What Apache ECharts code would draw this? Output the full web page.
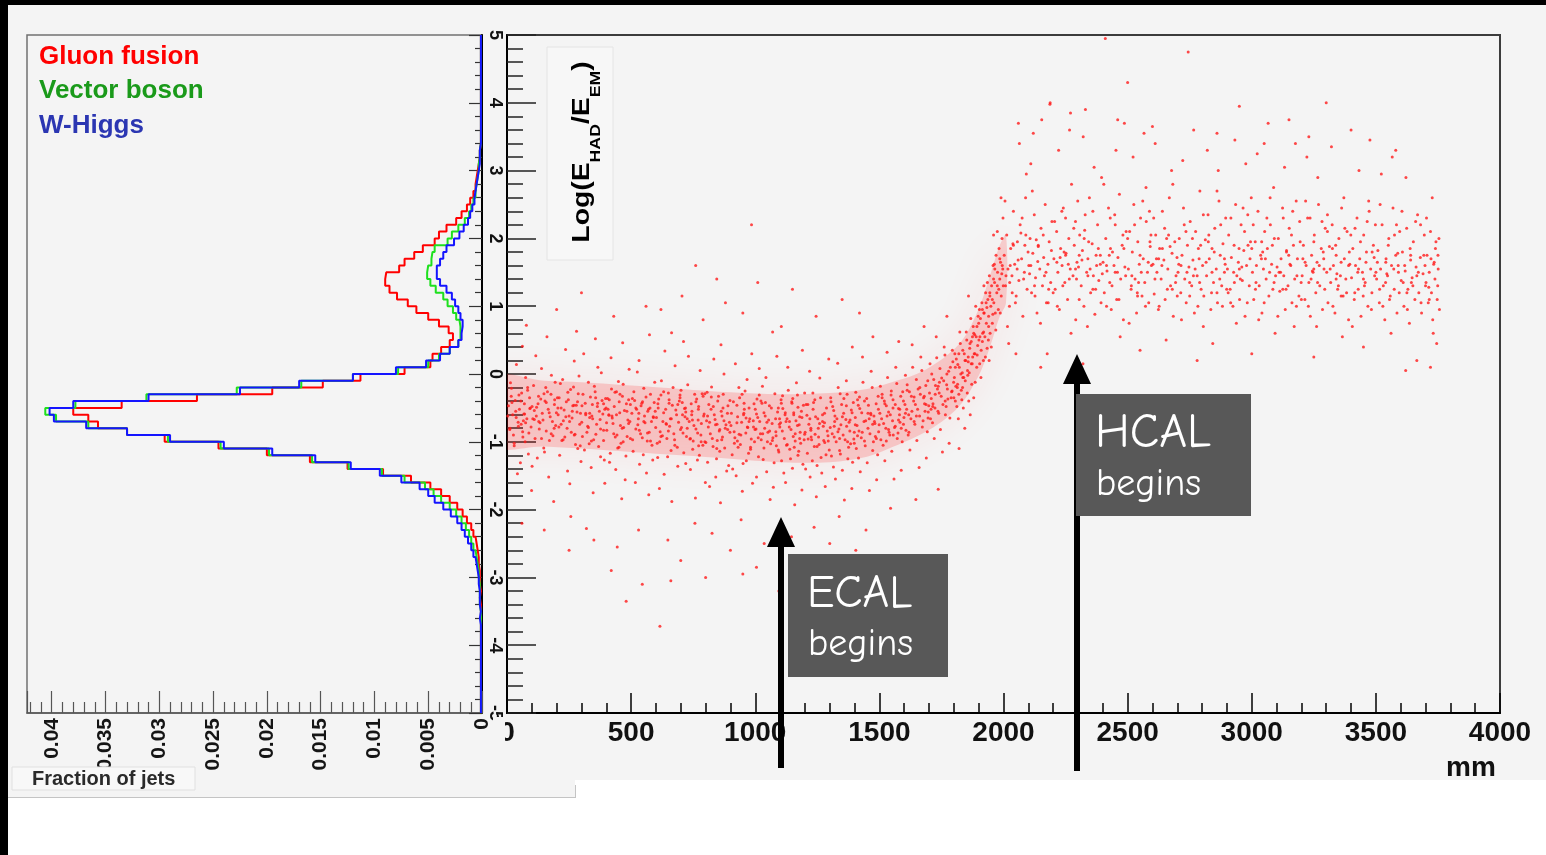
<!DOCTYPE html>
<html>
<head>
<meta charset="utf-8">
<script src="https://cdn.jsdelivr.net/npm/echarts@6.0.0/dist/echarts.min.js"></script>
<style>
html, body { margin: 0; padding: 0; background: #ffffff; }
#chart { width: 1546px; height: 855px; }
</style>
</head>
<body>
<div id="chart"></div>
<script>
// ---- Jet fraction histograms: bins of 0.1 in Log(E_HAD/E_EM), from -5 to 5 ----
const histBinStart = -5;
const histBinWidth = 0.1;

const gluonFusion = [
  0.0001,0.0001,0.0001,0.0001,0.0001,0.0001,0.0001,0.0001,0.0001,0.0001,
  0.0001,0.0001,0.0001,0.0001,0.0001,0.0001,0.0002,0.0001,0.0002,0.0002,
  0.0002,0.0003,0.0003,0.0004,0.0005,0.0006,0.0008,0.0010,0.0014,0.0018,
  0.0023,0.0030,0.0038,0.0048,0.0066,0.0092,0.0125,0.0160,0.0200,0.0245,
  0.0295,0.0330,0.0357,0.0366,0.0380,0.0335,0.0265,0.0195,0.0148,0.0113,
  0.0072,0.0048,0.0046,0.0038,0.0030,0.0027,0.0031,0.0040,0.0050,0.0061,
  0.0069,0.0079,0.0086,0.0090,0.0089,0.0077,0.0072,0.0063,0.0055,0.0044,
  0.0040,0.0033,0.0024,0.0019,0.0014,0.0011,0.0008,0.0006,0.0005,0.0004,
  0.0003,0.0002,0.0002,0.0001,0.0001,0.0001,0.0001,0.0001,0.0001,0.0001,
  0.0001,0.0001,0.0001,0.0001,0.0001,0.0001,0.0001,0.0001,0.0001,0.0001
];
const vectorBoson = [
  0.0001,0.0001,0.0001,0.0001,0.0001,0.0001,0.0001,0.0001,0.0001,0.0001,
  0.0001,0.0001,0.0001,0.0001,0.0001,0.0002,0.0002,0.0002,0.0002,0.0003,
  0.0003,0.0004,0.0005,0.0006,0.0008,0.0010,0.0012,0.0015,0.0019,0.0024,
  0.0030,0.0038,0.0045,0.0053,0.0072,0.0093,0.0124,0.0158,0.0198,0.0243,
  0.0292,0.0330,0.0366,0.0396,0.0406,0.0378,0.0312,0.0228,0.0168,0.0120,
  0.0078,0.0050,0.0040,0.0030,0.0022,0.0020,0.0020,0.0021,0.0024,0.0027,
  0.0032,0.0036,0.0043,0.0048,0.0051,0.0050,0.0047,0.0046,0.0044,0.0032,
  0.0028,0.0022,0.0016,0.0012,0.0010,0.0008,0.0006,0.0005,0.0004,0.0003,
  0.0003,0.0002,0.0002,0.0001,0.0001,0.0001,0.0001,0.0001,0.0001,0.0001,
  0.0001,0.0001,0.0001,0.0001,0.0001,0.0001,0.0001,0.0001,0.0001,0.0001
];
const wHiggs = [
  0.0001,0.0001,0.0001,0.0001,0.0001,0.0001,0.0001,0.0001,0.0001,0.0001,
  0.0001,0.0001,0.0001,0.0002,0.0001,0.0002,0.0002,0.0002,0.0003,0.0003,
  0.0004,0.0005,0.0006,0.0008,0.0010,0.0013,0.0016,0.0019,0.0023,0.0029,
  0.0036,0.0044,0.0050,0.0058,0.0075,0.0095,0.0122,0.0155,0.0195,0.0240,
  0.0290,0.0330,0.0368,0.0398,0.0402,0.0380,0.0310,0.0225,0.0170,0.0120,
  0.0080,0.0052,0.0039,0.0030,0.0022,0.0019,0.0018,0.0018,0.0020,0.0022,
  0.0025,0.0028,0.0033,0.0039,0.0042,0.0042,0.0039,0.0036,0.0033,0.0026,
  0.0021,0.0017,0.0013,0.0011,0.0009,0.0007,0.0006,0.0005,0.0004,0.0003,
  0.0002,0.0002,0.0002,0.0001,0.0001,0.0001,0.0001,0.0001,0.0001,0.0001,
  0.0001,0.0001,0.0001,0.0001,0.0001,0.0001,0.0001,0.0001,0.0001,0.0001
];

const histNames = ['Gluon fusion', 'Vector boson', 'W-Higgs'];

// ---- Jet shower depth (mm) vs Log(E_HAD/E_EM), gluon fusion jets ----
const ecalBand = [
  [6,-0.47],[11,-0.82],[18,-0.21],[23,-0.6],[29,-1.06],[33,-0.39],[38,0.14],[45,-0.71],[50,-0.52],[54,-1.31],[59,-0.28],[64,-0.93],[70,-0.44],[75,-0.05],[80,-0.66],[86,-1.18],[91,-0.35],[97,-0.78],[3,-0.62],[14,-0.13],[26,-0.9],[35,-0.55],[42,-1.47],[48,-0.31],[57,-0.74],[62,0.41],[68,-0.59],[73,-1.0],[83,-0.24],[88,-0.87],[94,-0.5],[99,-1.72],[20,-0.42],[66,-0.69],[78,0.72],
  [104,-0.66],[107,-0.17],[113,-0.95],[119,-0.49],[122,-1.24],[127,-0.33],[133,-0.72],[139,0.08],[142,-0.58],[148,-1.09],[153,-0.4],[158,-0.84],[163,-0.26],[168,-1.52],[174,-0.63],[179,-0.02],[185,-0.91],[191,-0.45],[196,-0.76],[101,-1.36],[110,-0.54],[116,0.27],[130,-0.81],[136,-0.37],[145,-0.68],[151,-1.15],[156,-0.2],[166,-0.52],[171,-0.98],[177,-0.3],[183,-0.7],[188,-1.88],[194,-0.12],[199,-0.57],[125,-0.44],[161,0.55],
  [203,-0.35],[209,-0.78],[212,-1.2],[218,-0.5],[224,-0.08],[227,-0.69],[233,-0.93],[239,-0.41],[244,-1.43],[250,-0.62],[256,-0.23],[259,-0.86],[265,-0.47],[271,0.19],[276,-1.04],[282,-0.56],[287,-0.29],[293,-0.74],[298,-1.29],[206,-0.6],[215,-0.14],[221,-0.98],[230,-0.53],[236,0.36],[242,-0.8],[247,-0.38],[253,-1.62],[262,-0.65],[268,-0.19],[274,-0.89],[279,-0.46],[285,-1.1],[290,-0.03],[296,-0.58],[257,-2.1],[280,0.63],
  [301,-0.71],[306,-0.3],[312,-1.12],[317,-0.58],[322,-0.86],[328,-0.12],[333,-0.64],[339,-1.38],[344,-0.45],[349,-0.97],[355,-0.26],[361,-0.74],[366,0.1],[372,-0.55],[377,-1.22],[383,-0.39],[389,-0.83],[394,-1.61],[399,-0.5],[304,-0.92],[309,0.3],[315,-0.43],[325,-0.77],[331,-1.03],[336,-0.34],[342,-0.62],[347,-1.75],[352,-0.18],[358,-0.89],[364,-0.48],[369,-1.07],[375,-0.67],[380,0.02],[386,-0.59],[392,-1.27],[397,-0.36],[320,-2.28],[356,0.52],
  [402,-0.83],[405,-0.36],[411,-0.61],[416,-1.17],[421,-0.22],[427,-0.73],[432,-0.48],[438,-1.41],[443,-0.9],[449,-0.11],[454,-0.57],[459,-1.02],[465,-0.33],[470,-0.79],[476,-1.56],[481,-0.44],[487,-0.68],[492,0.07],[497,-0.95],[407,-0.52],[413,-1.3],[419,0.24],[424,-0.65],[430,-0.88],[435,-0.27],[441,-0.6],[446,-1.09],[452,-0.41],[457,-0.76],[462,-1.84],[468,-0.15],[473,-0.54],[479,-1.21],[484,-0.92],[490,-0.38],[495,-0.7],[444,-2.55],[466,0.46],
  [503,-0.58],[508,-1.14],[514,-0.39],[519,-0.81],[525,0.03],[529,-0.66],[534,-1.33],[540,-0.47],[545,-0.94],[551,-0.21],[556,-0.72],[562,-1.46],[567,-0.55],[573,-0.86],[578,-0.3],[584,-1.05],[589,-0.63],[595,-0.12],[599,-0.79],[506,-0.97],[511,-0.26],[517,-1.6],[522,-0.52],[527,-0.75],[532,0.2],[538,-0.88],[543,-0.43],[549,-1.19],[554,-0.62],[560,-0.34],[565,-0.99],[571,-1.78],[576,-0.5],[582,-0.7],[587,-1.27],[593,-0.42],[530,-2.3],[574,0.58],
  [602,-0.64],[607,-1.23],[611,-0.37],[617,-0.85],[622,-0.1],[628,-0.7],[633,-1.48],[639,-0.52],[644,-0.95],[650,-0.28],[655,-0.77],[661,-1.13],[666,-0.46],[672,-0.88],[677,0.12],[683,-0.6],[688,-1.36],[694,-0.4],[699,-0.82],[605,-1.02],[609,-0.5],[614,-1.69],[620,-0.31],[626,-0.91],[631,-0.57],[636,0.34],[642,-0.74],[647,-1.22],[653,-0.43],[658,-0.66],[664,-1.88],[669,-0.2],[675,-0.97],[680,-0.53],[686,-1.08],[691,-0.71],[697,-0.35],[648,-2.45],[663,0.61],
  [703,-0.79],[706,-0.42],[712,-1.16],[717,-0.63],[723,-0.92],[728,-0.16],[734,-0.7],[739,-1.41],[745,-0.55],[750,-0.99],[756,-0.3],[761,-0.81],[767,-1.27],[772,-0.48],[778,0.05],[783,-0.73],[789,-1.05],[794,-0.59],[799,-1.6],[701,-0.24],[709,-0.87],[715,-0.51],[720,-1.32],[726,-0.66],[731,0.26],[737,-0.96],[742,-0.44],[748,-1.11],[753,-0.76],[759,-1.83],[764,-0.37],[770,-0.68],[775,-1.2],[781,-0.9],[786,-0.29],[792,-0.62],[797,-1.0],[757,-2.2],[711,0.48],[744,-0.6],
  [804,-0.69],[808,-1.3],[813,-0.45],[819,-0.88],[824,-0.19],[830,-1.07],[835,-0.6],[841,-1.52],[846,-0.74],[852,-0.33],[857,-1.14],[863,-0.55],[868,-0.93],[874,0.0],[879,-0.8],[885,-1.43],[890,-0.47],[896,-0.71],[801,-1.01],[806,-0.27],[811,-0.78],[816,-1.66],[822,-0.52],[827,-0.95],[833,0.22],[838,-0.67],[844,-1.25],[849,-0.4],[855,-0.84],[860,-1.9],[866,-0.62],[871,-0.3],[877,-1.09],[882,-0.75],[888,-0.58],[893,-1.35],[898,-0.86],[826,-2.35],[862,0.43],[847,-0.98],
  [902,-0.76],[907,-1.19],[912,-0.41],[918,-0.94],[923,-1.5],[929,-0.63],[934,-0.2],[940,-1.04],[945,-0.71],[951,-1.32],[956,-0.52],[962,-0.87],[967,-0.08],[973,-1.17],[978,-0.66],[984,-0.96],[989,-1.61],[995,-0.44],[999,-0.82],[904,-0.58],[909,-1.4],[915,-0.85],[920,0.15],[926,-0.72],[931,-1.08],[937,-0.35],[942,-0.9],[948,-1.73],[953,-0.6],[959,-0.25],[964,-1.28],[970,-0.79],[975,-0.5],[981,-1.11],[986,0.3],[992,-0.69],[997,-1.0],[943,-2.15],[968,-0.78],[928,-0.99],
  [1003,-0.81],[1007,-0.37],[1013,-1.22],[1018,-0.7],[1024,-0.97],[1029,-0.18],[1035,-1.09],[1040,-0.62],[1046,-1.44],[1051,-0.86],[1057,-0.47],[1062,-1.03],[1068,-0.73],[1073,-1.67],[1079,-0.29],[1084,-0.91],[1090,-0.56],[1095,-1.15],[1099,-0.78],[1005,-1.52],[1010,-0.64],[1016,0.08],[1021,-0.88],[1027,-0.43],[1032,-1.26],[1038,-0.8],[1043,-0.05],[1049,-1.0],[1054,-0.68],[1060,-1.85],[1065,-0.5],[1071,-0.94],[1076,-1.31],[1082,-0.66],[1087,0.26],[1093,-1.12],[1097,-0.74],[1036,-2.5],[1058,-0.84],[1085,-1.06],[1070,0.62],
  [1102,-0.72],[1106,-1.28],[1111,-0.51],[1117,-0.95],[1122,-1.6],[1128,-0.66],[1133,-0.24],[1139,-1.11],[1144,-0.82],[1150,-1.39],[1155,-0.57],[1161,-0.99],[1166,-0.13],[1172,-1.2],[1177,-0.75],[1183,-1.02],[1188,-1.71],[1194,-0.46],[1199,-0.89],[1104,-0.38],[1109,-0.84],[1115,-1.46],[1120,-0.6],[1126,-1.05],[1131,0.1],[1137,-0.78],[1142,-1.25],[1148,-0.43],[1153,-0.92],[1159,-1.93],[1164,-0.69],[1170,-0.31],[1175,-1.14],[1181,-0.86],[1186,-0.55],[1192,-1.33],[1197,-0.97],[1124,-0.7],[1157,-1.08],[1179,-0.63],[1146,-2.4],[1190,0.35],
  [1201,-0.86],[1205,-0.45],[1210,-1.17],[1216,-0.74],[1221,-1.52],[1227,-0.97],[1232,-0.28],[1238,-1.07],[1243,-0.63],[1249,-1.35],[1254,-0.8],[1260,-0.06],[1265,-1.23],[1271,-0.7],[1276,-0.98],[1282,-1.66],[1287,-0.5],[1293,-0.91],[1298,-1.12],[1203,-1.4],[1208,-0.61],[1213,-0.96],[1219,0.04],[1224,-0.83],[1230,-1.28],[1235,-0.42],[1241,-0.89],[1246,-1.81],[1252,-0.66],[1257,-1.04],[1263,-0.35],[1268,-1.46],[1274,-0.77],[1279,-0.58],[1285,-1.19],[1290,-0.84],[1296,0.22],[1237,-2.26],[1259,-0.73],[1225,-0.93],[1280,-1.01],
  [1302,-0.79],[1307,-1.21],[1312,-0.48],[1318,-0.93],[1323,-1.55],[1329,-0.66],[1334,-0.2],[1340,-1.13],[1345,-0.75],[1351,-1.42],[1356,-0.58],[1362,-0.97],[1367,-0.1],[1373,-1.25],[1378,-0.71],[1384,-1.03],[1389,-1.69],[1395,-0.42],[1399,-0.86],[1304,-0.35],[1310,-0.88],[1315,-1.37],[1321,-0.62],[1326,-1.0],[1332,0.16],[1337,-0.81],[1343,-1.18],[1348,-0.45],[1354,-0.9],[1359,-1.86],[1365,-0.67],[1370,-0.3],[1376,-1.08],[1381,-0.84],[1387,-0.53],[1392,-1.3],[1397,-0.96],[1338,-2.1],[1368,-0.77],[1320,-0.7],[1391,0.4],
  [1403,-0.64],[1407,-1.1],[1412,-0.38],[1418,-0.84],[1423,-1.44],[1429,-0.57],[1434,-0.12],[1440,-0.99],[1445,-0.69],[1451,-1.31],[1456,-0.46],[1462,-0.88],[1467,0.04],[1473,-1.13],[1478,-0.62],[1484,-0.92],[1489,-1.56],[1495,-0.33],[1499,-0.75],[1405,-0.27],[1410,-0.76],[1416,-1.24],[1421,-0.51],[1427,-0.94],[1432,0.25],[1438,-0.7],[1443,-1.06],[1449,-0.36],[1454,-0.8],[1460,-1.72],[1465,-0.58],[1471,-0.2],[1476,-1.0],[1482,-0.73],[1487,-0.44],[1493,-1.19],[1497,-0.85],[1446,-2.3],[1474,0.55]
];

const ecalCoreExtra = [
  [37,-0.64],[412,-0.38],[865,-0.97],[1233,-0.52],[1588,-0.8],[271,-0.9],[688,-0.45],[1047,-0.71],[1399,-1.02],[149,-0.29],[533,-0.83],[954,-0.58],[1318,-0.77],[1681,-0.33],[92,-0.51],[468,-1.0],[823,-0.34],[1179,-0.95],[1522,-0.44],[345,-0.66],
  [726,-0.8],[1105,-0.43],[1459,-0.66],[218,-0.74],[597,-0.55],[981,-1.08],[1367,-0.47],[1742,-0.12],[63,-0.85],[441,-0.26],[808,-0.62],[1161,-0.88],[1547,-0.31],[302,-0.47],[676,-1.05],[1023,-0.4],[1412,-0.91],[1806,0.1],[128,-0.7],[505,-0.36],
  [889,-0.82],[1271,-0.6],[1631,-0.55],[389,-0.98],[761,-0.41],[1138,-0.7],[1496,-0.52],[245,-0.27],[620,-0.92],[1005,-0.59],[1382,-0.68],[1765,-0.4],[17,-0.33],[551,-0.7],[926,-0.46],[1294,-0.99],[1663,-0.2],[178,-0.88],[707,-0.6],[1083,-0.85],
  [1440,-0.4],[333,-0.58],[845,-1.1],[1212,-0.45],[1577,-0.68],[83,-0.2],[464,-0.8],[1016,-0.31],[1351,-0.63],[1858,0.25],[295,-1.06],[653,-0.38],[1121,-0.57],[1488,-0.95],[205,-0.5],[578,-0.99],[947,-0.3],[1333,-0.85],[1708,-0.52],[118,-0.62],
  [497,-0.45],[874,-0.69],[1249,-1.07],[1612,-0.24],[357,-0.35],[739,-0.95],[1093,-0.5],[1473,-0.74],[46,-0.77],[423,-0.62],[797,-0.29],[1188,-0.64],[1556,-0.9],[263,-0.55],[641,-0.73],[1030,-0.88],[1420,-0.34],[1793,-0.25],[158,-0.42],[531,-0.58],
  [916,-1.02],[1305,-0.41],[1696,-0.65],[377,-0.81],[771,-0.52],[1151,-0.36],[1531,-0.62],[226,-0.97],[608,-0.44],[993,-0.78],[1372,-1.0],[1836,-0.05],[71,-0.59],[451,-1.08],[831,-0.48],[1224,-0.8],[1597,-0.4],[317,-0.6],[697,-0.31],[1069,-0.98],
  [1454,-0.58],[192,-0.38],[566,-0.87],[963,-0.65],[1342,-0.29],[1725,-0.3],[29,-1.02],[401,-0.72],[782,-1.0],[1172,-0.49],[1564,-0.77],[284,-0.41],[662,-0.66],[1041,-0.42],[1431,-0.86],[1875,0.55],[139,-0.95],[519,-0.5],[898,-0.39],[1279,-0.72],
  [1649,-0.62],[365,-0.43],[747,-0.68],[1129,-1.04],[1511,-0.35],[237,-0.63],[615,-1.0],[1000,-0.52],[1390,-0.57],[1772,0.0],[101,-0.48],[483,-0.55],[857,-0.82],[1240,-0.38],[1619,-0.86],[328,-0.79],[719,-0.5],[1098,-0.66],[1466,-0.6],[1893,0.7],
  [56,-0.4],[436,-0.93],[816,-0.71],[1199,-0.28],[1582,-0.52],[252,-0.7],[631,-0.26],[1012,-0.94],[1403,-0.75],[1815,-0.15],[170,-0.57],[546,-0.41],[935,-0.89],[1316,-0.54],[1688,-0.45],[394,-0.52],[772,-1.06],[1155,-0.6],[1537,-0.82],[1921,0.9],
  [12,-0.8],[389,-0.44],[768,-0.87],[1147,-0.41],[1528,-0.99],[210,-0.35],[590,-0.64],[975,-0.7],[1357,-0.36],[1737,-0.18],[110,-0.67],[490,-0.73],[870,-0.5],[1255,-0.93],[1640,-0.34],[340,-0.99],[720,-0.56],[1110,-0.32],[1480,-0.7],[1945,1.2],
  [75,-0.72],[455,-0.3],[840,-0.75],[1220,-0.66],[1605,-0.58],[270,-0.46],[650,-0.84],[1035,-0.57],[1415,-0.46],[1800,-0.35],[190,-0.8],[570,-0.52],[955,-0.43],[1340,-0.95],[1715,-0.48],[410,-0.6],[790,-0.33],[1170,-0.76],[1555,-0.5],[1960,1.4],
  [1820,0.3],[1845,0.2],[1865,0.45],[1880,0.6],[1900,0.75],[1915,0.95],[1930,1.05],[1940,0.7],[1955,1.1],[1965,1.55],[1975,1.3],[1985,1.7],[1995,1.6],[1835,-0.2],[1855,0.05],[1870,0.15],[1885,0.3],[1905,0.55],[1920,0.62],[1935,1.35]
];

const showerRise = [
  [1502,-0.58],[1506,-0.97],[1511,-0.3],[1517,-0.73],[1522,-1.28],[1528,-0.47],[1533,-0.05],[1539,-0.86],[1544,-0.6],[1550,-1.14],[1555,-0.38],[1561,-0.79],[1566,0.1],[1572,-0.95],[1577,-0.51],[1583,-0.71],[1588,-1.42],[1594,-0.26],[1599,-0.64],[1504,-0.18],[1509,-0.66],[1515,-1.05],[1520,-0.4],[1526,-0.8],[1531,0.32],[1537,-0.56],[1542,-0.9],[1548,-0.25],[1553,-0.69],[1559,-1.55],[1564,-0.45],[1570,-0.14],[1575,-0.87],[1581,-0.6],[1586,-0.33],[1592,-1.0],[1597,-0.74],[1545,-1.98],[1578,0.48],
  [1603,-0.45],[1607,-0.83],[1612,-0.16],[1618,-0.6],[1623,-1.12],[1629,-0.33],[1634,0.1],[1640,-0.7],[1645,-0.45],[1651,-0.98],[1656,-0.22],[1662,-0.62],[1667,0.25],[1673,-0.78],[1678,-0.35],[1684,-0.55],[1689,-1.24],[1695,-0.1],[1699,-0.47],[1605,-0.02],[1610,-0.52],[1616,-0.9],[1621,-0.26],[1627,-0.66],[1632,0.43],[1638,-0.4],[1643,-0.74],[1649,-0.08],[1654,-0.52],[1660,-1.38],[1665,-0.3],[1671,0.05],[1676,-0.69],[1682,-0.44],[1687,-0.17],[1693,-0.85],[1697,-0.56],[1647,-1.85],[1680,0.7],
  [1702,-0.28],[1706,-0.66],[1711,0.0],[1716,-0.44],[1721,-0.95],[1726,-0.17],[1731,0.24],[1736,-0.55],[1741,-0.28],[1746,-0.82],[1751,-0.06],[1756,-0.45],[1761,0.4],[1766,-0.6],[1771,-0.16],[1776,-0.37],[1781,-1.02],[1786,0.1],[1791,-0.26],[1796,0.18],[1704,0.15],[1709,-0.36],[1714,-0.72],[1719,-0.08],[1724,-0.5],[1729,0.55],[1734,-0.22],[1739,-0.58],[1744,0.08],[1749,-0.33],[1754,-1.15],[1759,-0.1],[1764,0.28],[1769,-0.48],[1774,-0.22],[1779,0.04],[1784,-0.65],[1789,-0.35],[1794,0.35],[1799,-0.12],[1737,-1.7],[1772,0.85],
  [1802,-0.05],[1806,-0.4],[1810,0.22],[1814,-0.2],[1818,-0.66],[1822,0.1],[1826,0.45],[1830,-0.24],[1834,0.02],[1838,-0.5],[1842,0.3],[1846,-0.1],[1850,0.62],[1854,-0.28],[1858,0.18],[1862,0.02],[1866,-0.6],[1870,0.48],[1874,0.15],[1878,0.7],[1882,0.3],[1886,-0.12],[1890,0.55],[1894,0.28],[1898,0.85],[1804,0.3],[1808,-0.18],[1812,-0.48],[1816,0.14],[1820,-0.3],[1824,0.62],[1828,0.0],[1832,-0.38],[1836,0.35],[1840,-0.05],[1844,-0.8],[1848,0.2],[1852,0.5],[1856,-0.02],[1860,-0.4],[1864,0.38],[1868,0.82],[1872,-0.15],[1876,0.25],[1880,-0.35],[1884,0.58],[1888,1.0],[1892,0.1],[1896,0.42],[1821,-1.1],[1859,1.15],
  [1901,0.5],[1904,0.15],[1907,0.82],[1910,0.35],[1913,1.05],[1916,0.6],[1919,0.2],[1922,0.9],[1925,0.55],[1928,1.2],[1931,0.75],[1934,0.38],[1937,1.1],[1940,0.85],[1943,1.45],[1946,0.6],[1949,1.0],[1952,1.3],[1955,0.75],[1958,1.6],[1961,1.05],[1964,1.35],[1967,0.9],[1970,1.75],[1973,1.2],[1976,1.5],[1979,0.95],[1982,1.85],[1985,1.4],[1988,1.65],[1991,1.15],[1994,2.0],[1997,1.55],[1999,1.3],[1903,0.95],[1909,-0.05],[1915,0.48],[1921,1.3],[1927,0.25],[1933,0.98],[1939,0.5],[1945,1.15],[1951,0.4],[1957,0.88],[1963,1.62],[1969,0.65],[1975,2.1],[1981,1.25],[1987,0.9],[1993,1.48],[1998,2.3],[1960,2.05],[1990,2.6],[1942,0.2]
];

const hcalBand = [
  [2003,1.75],[2008,1.3],[2013,2.05],[2018,1.55],[2024,1.0],[2029,1.85],[2034,1.45],[2040,2.4],[2045,1.62],[2051,1.15],[2056,1.95],[2062,1.38],[2067,2.2],[2073,1.7],[2078,0.85],[2084,1.5],[2089,2.6],[2095,1.25],[2099,1.8],[2006,2.55],[2016,0.7],[2027,1.6],[2038,1.92],[2048,1.05],[2059,1.68],[2070,2.08],[2081,1.4],[2092,2.95],[2021,0.45],[2064,3.4],[2086,1.9],[2035,1.2],
  [2102,1.6],[2107,2.0],[2113,1.2],[2118,1.78],[2124,2.35],[2129,1.42],[2135,0.9],[2140,1.88],[2146,1.55],[2151,2.15],[2157,1.3],[2162,1.72],[2168,2.5],[2173,1.05],[2179,1.62],[2184,1.95],[2190,1.35],[2195,2.25],[2105,1.48],[2116,2.7],[2127,1.15],[2138,1.66],[2149,0.75],[2160,2.05],[2171,1.5],[2182,1.25],[2193,1.82],[2110,3.1],[2154,3.75],[2188,4.0],[2176,0.3],[2132,1.98],
  [2203,1.7],[2208,1.25],[2214,2.1],[2219,1.5],[2225,0.95],[2230,1.85],[2236,1.6],[2241,2.45],[2247,1.35],[2252,1.78],[2258,1.1],[2263,2.0],[2269,1.55],[2274,2.8],[2280,1.45],[2285,1.9],[2291,0.8],[2296,1.65],[2206,2.25],[2217,1.0],[2228,1.72],[2239,1.3],[2250,2.3],[2261,1.62],[2272,0.6],[2283,2.15],[2294,1.4],[2222,3.3],[2266,3.6],[2244,1.8],[2299,2.55],
  [2302,1.58],[2307,2.05],[2313,1.3],[2318,1.82],[2324,1.0],[2329,2.35],[2335,1.5],[2340,1.7],[2346,2.6],[2351,1.2],[2357,1.92],[2362,1.45],[2368,0.88],[2373,1.75],[2379,2.2],[2384,1.38],[2390,1.62],[2395,2.9],[2305,1.1],[2316,1.68],[2327,2.12],[2338,0.7],[2349,1.55],[2360,2.4],[2371,1.25],[2382,1.85],[2393,1.05],[2321,3.5],[2365,3.05],[2343,1.95],[2398,1.48],
  [2401,1.65],[2406,1.2],[2412,2.0],[2417,1.52],[2423,2.45],[2428,1.35],[2434,0.95],[2439,1.8],[2445,1.6],[2450,2.2],[2456,1.1],[2461,1.72],[2467,2.65],[2472,1.4],[2478,1.9],[2483,0.8],[2489,1.58],[2494,2.1],[2404,2.8],[2415,1.0],[2426,1.75],[2437,1.3],[2448,2.35],[2459,1.5],[2470,0.55],[2481,2.05],[2492,1.45],[2410,4.95],[2453,3.3],[2487,3.7],[2431,1.85],
  [2503,1.55],[2508,2.1],[2514,1.25],[2519,1.8],[2525,2.5],[2530,1.4],[2536,0.9],[2541,1.95],[2547,1.62],[2552,2.3],[2558,1.15],[2563,1.7],[2569,1.35],[2574,2.75],[2580,1.5],[2585,1.05],[2591,1.88],[2596,1.6],[2506,0.75],[2517,1.45],[2528,2.2],[2539,1.2],[2550,1.75],[2561,2.55],[2572,1.0],[2583,1.65],[2594,2.05],[2522,3.2],[2566,3.55],[2544,1.35],[2588,2.4],
  [2602,1.62],[2607,1.18],[2613,2.05],[2618,1.5],[2624,0.95],[2629,1.85],[2635,1.4],[2640,2.4],[2646,1.68],[2651,1.1],[2657,2.0],[2662,1.55],[2668,2.6],[2673,1.3],[2679,1.78],[2684,0.85],[2690,1.95],[2695,1.45],[2605,2.3],[2616,1.7],[2627,1.0],[2638,1.6],[2649,2.15],[2660,1.25],[2671,1.88],[2682,2.8],[2693,1.35],[2611,3.4],[2655,0.5],[2677,3.0],[2699,1.72],
  [2703,1.5],[2708,2.0],[2714,1.2],[2719,1.75],[2725,2.45],[2730,1.4],[2736,1.05],[2741,1.9],[2747,1.58],[2752,2.25],[2758,1.3],[2763,1.68],[2769,0.9],[2774,2.1],[2780,1.45],[2785,1.85],[2791,2.7],[2796,1.25],[2706,1.62],[2717,0.8],[2728,2.2],[2739,1.5],[2750,1.15],[2761,2.0],[2772,1.55],[2783,1.0],[2794,1.9],[2744,4.75],[2722,3.15],[2766,3.6],[2788,1.7],
  [2802,1.6],[2807,1.15],[2813,1.98],[2818,1.45],[2824,2.35],[2829,1.7],[2835,0.95],[2840,1.85],[2846,1.35],[2851,2.15],[2857,1.55],[2862,1.05],[2868,2.55],[2873,1.75],[2879,1.3],[2884,1.92],[2890,1.5],[2895,2.3],[2805,0.7],[2816,1.65],[2827,2.05],[2838,1.2],[2849,1.8],[2860,2.7],[2871,1.4],[2882,1.0],[2893,1.62],[2821,3.3],[2865,3.0],[2899,1.25],[2843,0.45],
  [2902,1.55],[2907,2.05],[2913,1.25],[2918,1.72],[2924,1.0],[2929,1.9],[2935,2.5],[2940,1.45],[2946,1.65],[2951,1.1],[2957,2.2],[2962,1.38],[2968,1.82],[2973,0.85],[2979,1.6],[2984,2.35],[2990,1.3],[2995,1.95],[2905,1.2],[2916,2.3],[2927,1.5],[2938,0.75],[2949,1.85],[2960,1.58],[2971,2.1],[2982,1.05],[2993,1.7],[2932,3.45],[2976,3.1],[2954,1.4],[2998,2.6],
  [3003,1.5],[3008,1.1],[3014,1.95],[3019,1.6],[3025,2.4],[3030,1.3],[3036,1.75],[3041,0.9],[3047,1.55],[3052,2.1],[3058,1.4],[3063,1.85],[3069,1.15],[3074,2.6],[3080,1.62],[3085,1.25],[3091,2.0],[3096,1.45],[3006,2.2],[3017,1.35],[3028,0.8],[3039,1.7],[3050,1.05],[3061,2.3],[3072,1.5],[3083,1.9],[3094,0.6],[3022,3.25],[3066,3.7],[3088,2.75],[3044,1.8],
  [3102,1.58],[3107,2.0],[3113,1.22],[3118,1.7],[3124,2.45],[3129,1.45],[3135,0.95],[3140,1.82],[3146,1.3],[3151,2.15],[3157,1.6],[3162,1.05],[3168,1.9],[3173,1.4],[3179,2.55],[3184,1.7],[3190,1.15],[3195,1.95],[3105,0.85],[3116,1.5],[3127,2.3],[3138,1.25],[3149,1.75],[3160,2.05],[3171,0.7],[3182,1.45],[3193,2.25],[3132,3.05],[3176,3.4],[3154,1.62],[3199,1.35],
  [3203,1.45],[3208,1.9],[3214,1.1],[3219,1.6],[3225,2.3],[3230,1.35],[3236,0.85],[3241,1.75],[3247,1.5],[3252,2.05],[3258,1.2],[3263,1.65],[3269,2.5],[3274,1.3],[3280,1.85],[3285,0.95],[3291,1.55],[3296,2.15],[3206,1.7],[3217,2.55],[3228,1.0],[3239,1.4],[3250,1.95],[3261,0.7],[3272,1.6],[3283,2.25],[3294,1.25],[3222,3.2],[3266,2.9],[3244,1.52],[3288,1.8],
  [3302,1.5],[3307,1.05],[3313,1.88],[3318,1.35],[3324,2.2],[3329,1.6],[3335,0.9],[3340,1.75],[3346,1.25],[3351,2.0],[3357,1.45],[3362,2.45],[3368,1.15],[3373,1.7],[3379,1.4],[3384,2.1],[3390,0.8],[3395,1.62],[3305,2.35],[3316,1.55],[3327,1.0],[3338,1.9],[3349,1.3],[3360,1.65],[3371,2.6],[3382,1.2],[3393,1.8],[3321,3.35],[3365,0.55],[3343,1.48],[3399,2.05],
  [3402,1.42],[3407,1.85],[3413,1.1],[3418,1.6],[3424,2.3],[3429,1.25],[3435,1.7],[3440,0.85],[3446,1.5],[3451,2.05],[3457,1.35],[3462,1.8],[3468,1.0],[3473,2.4],[3479,1.55],[3484,1.2],[3490,1.9],[3495,1.45],[3405,0.7],[3416,2.15],[3427,1.5],[3438,1.95],[3449,1.15],[3460,1.65],[3471,2.55],[3482,0.95],[3493,1.72],[3432,3.0],[3476,3.45],[3454,1.3],[3498,2.2],
  [3503,1.4],[3508,1.82],[3514,1.05],[3519,1.55],[3525,2.2],[3530,1.3],[3536,0.8],[3541,1.7],[3547,1.45],[3552,2.0],[3558,1.15],[3563,1.6],[3569,2.45],[3574,1.25],[3580,1.75],[3585,0.9],[3591,1.5],[3596,2.1],[3506,1.65],[3517,2.5],[3528,1.0],[3539,1.35],[3550,1.9],[3561,0.6],[3572,1.55],[3583,2.2],[3594,1.2],[3522,2.95],[3566,3.2],[3544,1.48],[3588,1.78],
  [3602,1.38],[3607,1.8],[3613,1.0],[3618,1.52],[3624,2.15],[3629,1.25],[3635,0.75],[3640,1.68],[3646,1.42],[3651,1.95],[3657,1.1],[3662,1.58],[3668,2.35],[3673,1.2],[3679,1.72],[3684,0.9],[3690,1.48],[3695,2.05],[3605,2.4],[3616,1.6],[3627,0.95],[3638,1.85],[3649,1.3],[3660,2.25],[3671,1.5],[3682,1.05],[3693,1.75],[3621,2.9],[3665,0.2],[3643,1.35],[3698,1.6],
  [3702,1.35],[3706,1.75],[3711,1.05],[3715,1.5],[3720,2.1],[3724,1.2],[3729,0.8],[3733,1.62],[3738,1.4],[3742,1.95],[3747,1.1],[3751,1.55],[3756,0.95],[3704,2.3],[3713,1.28],[3722,1.7],[3731,0.6],[3740,1.85],[3749,1.3],[3754,2.0],[3727,2.6],[3745,0.45]
];

const hcalCoreExtra = [
  [2025,1.35],[2140,1.9],[2265,1.4],[2390,1.75],[2515,1.3],[2640,1.85],[2765,1.45],[2890,1.7],[3015,1.25],[3140,1.8],[3265,1.35],[3390,1.6],[3515,1.25],[3640,1.75],[2075,2.3],[2200,1.2],[2325,2.0],[2450,1.5],[2575,2.25],[2700,1.15],
  [2825,1.95],[2950,1.55],[3075,2.2],[3200,1.1],[3325,1.85],[3450,1.4],[3575,2.05],[3700,1.3],[2110,1.6],[2235,2.4],[2360,1.25],[2485,1.85],[2610,1.4],[2735,2.1],[2860,1.2],[2985,1.9],[3110,1.5],[3235,2.3],[3360,1.15],[3485,1.8],
  [3610,1.35],[3735,1.65],[2055,1.55],[2180,1.05],[2305,1.75],[2430,2.3],[2555,1.5],[2680,1.25],[2805,2.35],[2930,1.35],[3055,1.7],[3180,1.0],[3305,2.1],[3430,1.55],[3555,1.1],[3680,2.2],[2090,2.05],[2215,1.65],[2340,1.45],[2465,1.1],
  [2590,1.95],[2715,1.6],[2840,1.5],[2965,2.45],[3090,1.35],[3215,1.65],[3340,1.4],[3465,2.25],[3590,1.6],[3715,1.1],[2040,1.9],[2165,1.45],[2290,2.25],[2415,1.6],[2540,1.15],[2665,2.05],[2790,1.35],[2915,1.05],[3040,1.95],[3165,2.4],
  [3290,1.7],[3415,1.2],[3540,1.65],[3665,1.45],[2125,1.3],[2250,1.75],[2375,1.6],[2500,2.0],[2625,1.7],[2750,1.35],[2875,2.2],[3000,1.85],[3125,1.25],[3250,1.55],[3375,2.15],[3500,1.5],[3625,1.2],[3750,1.75],[2010,1.45],[2290,1.55]
];

const strayJets = [
  [616,-3.72],[545,-3.1],[250,-2.6],[420,-2.9],[700,-2.75],[900,-2.6],[1005,-2.85],[1150,-2.7],[1300,-2.5],[1405,-2.6],
  [800,-3.0],[1210,-2.9],[350,-2.45],[150,-2.3],[60,-2.2],[1095,-3.2],[480,-3.35],[1460,-2.8],[660,-3.05],[950,-2.95],
  [620,0.95],[705,1.15],[790,0.8],[880,1.05],[950,0.9],[1010,1.35],[760,1.6],[1105,0.7],[845,1.4],[560,1.0],
  [430,0.85],[300,1.2],[1245,0.85],[1350,1.1],[1420,0.9],[200,0.95],[985,2.2],[1150,1.25],
  [2187,3.98],[2270,3.85],[2330,3.9],[2460,3.75],[2600,3.65],[2860,3.55],[3050,3.4],[3230,3.5],[3400,3.6],[3580,3.3],
  [2060,3.7],[2120,3.55],[2500,4.3],[2950,3.95],[3300,4.0],[3150,3.75],
  [2050,0.3],[2150,0.1],[2320,0.15],[2550,0.35],[2780,0.2],[3000,0.3],[3250,0.25],[3450,0.4],[3620,0.05],[3720,0.1]
];

// Where the ECAL-side cloud is densest: [depth mm, lower edge, upper edge]
const ecalCore = [
  [-60,-1.05,-0.05],[150,-1.07,-0.1],[300,-1.1,-0.12],[500,-1.15,-0.17],[700,-1.2,-0.22],[900,-1.25,-0.27],[1100,-1.3,-0.3],
  [1300,-1.3,-0.28],[1450,-1.22,-0.22],[1550,-1.08,-0.12],[1650,-0.92,0.0],[1720,-0.78,0.14],[1780,-0.62,0.3],
  [1830,-0.44,0.48],[1870,-0.22,0.72],[1910,0.05,1.05],[1950,0.45,1.5],[1985,0.85,1.9],[2010,1.05,2.05]
];

const jetPoints = ecalBand.concat(ecalCoreExtra, showerRise, hcalBand, hcalCoreExtra, strayJets);

// ---- helpers ----
// Turns per-bin fractions into a vertical step outline: each bin spans [lo, hi] in log ratio.
function histSteps(values) {
  const pts = [];
  values.forEach((f, i) => {
    const lo = +(histBinStart + i * histBinWidth).toFixed(2);
    const hi = +(lo + histBinWidth).toFixed(2);
    pts.push([f, lo], [f, hi]);
  });
  return pts;
}

// Faint glow under the densest part of the cloud, placed through the axis scales.
function coreRenderer(band, fill, glow, blur) {
  return function (params, api) {
    const upper = band.map(p => api.coord([p[0], p[2]]));
    const lower = band.slice().reverse().map(p => api.coord([p[0], p[1]]));
    return {
      type: 'polygon',
      shape: { points: upper.concat(lower), smooth: 0.35 },
      style: { fill: fill, shadowBlur: blur, shadowColor: glow }
    };
  };
}

const sansBold = 'Arial, "Liberation Sans", sans-serif';
const handFont = '"Comic Sans MS", "Comic Neue", Lato, "Noto Sans", sans-serif';
const legendFont = '"Comic Sans MS", Arial, "Liberation Sans", sans-serif';
const panelGray = '#f4f4f4';

const histColors = ['#ff0000', '#1ee01e', '#1414ff'];
const legendColors = ['#ff0000', '#1a9a1a', '#2b36b2'];

const chart = echarts.init(document.getElementById('chart'), null, { renderer: 'canvas' });

const option = {
  animation: false,
  backgroundColor: '#ffffff',
  legend: {
    orient: 'vertical',
    left: 29,
    top: 37,
    icon: 'none',
    itemWidth: 0,
    itemHeight: 29,
    itemGap: 7,
    selectedMode: false,
    textStyle: { fontSize: 26, fontWeight: 'bold', fontFamily: legendFont },
    data: histNames.map((n, i) => ({
      name: n,
      textStyle: { color: legendColors[i], fontSize: 26, fontWeight: 'bold', fontFamily: legendFont }
    }))
  },
  grid: [
    { left: 27, top: 35, width: 455, bottom: 142, show: true, borderColor: '#707070', borderWidth: 1.5, backgroundColor: 'transparent' },
    { left: 507, top: 35, width: 993, bottom: 142, show: true, borderColor: '#3c3c3c', borderWidth: 2, backgroundColor: 'transparent' }
  ],
  xAxis: [
    {
      gridIndex: 0, type: 'value', inverse: true, min: 0, max: 0.0423, interval: 0.005,
      axisLine: { onZero: false, lineStyle: { color: '#555', width: 1.5 } },
      axisTick: { inside: true, length: 22, lineStyle: { color: '#555', width: 1.2 } },
      minorTick: { show: true, splitNumber: 5, length: 11, lineStyle: { color: '#555', width: 1.2 } },
      splitLine: { show: false },
      axisLabel: {
        rotate: 90, margin: 5, fontSize: 21, fontWeight: 'bold', color: '#151515', fontFamily: sansBold,
        showMaxLabel: false,
        formatter: v => (v === 0 ? '0' : String(+v.toFixed(3)))
      }
    },
    {
      gridIndex: 1, type: 'value', min: 0, max: 4000, interval: 500,
      axisLine: { onZero: false, lineStyle: { color: '#000', width: 2 } },
      axisTick: { inside: true, length: 20, lineStyle: { color: '#000', width: 1.5 } },
      minorTick: { show: true, splitNumber: 5, length: 10, lineStyle: { color: '#000', width: 1.5 } },
      splitLine: { show: false },
      axisLabel: { margin: 6, fontSize: 28, fontWeight: 'bold', color: '#111', fontFamily: sansBold, formatter: v => String(v) }
    }
  ],
  yAxis: [
    {
      gridIndex: 0, type: 'value', position: 'right', min: -5, max: 5, interval: 1,
      axisLine: { onZero: false, lineStyle: { color: '#000', width: 2 } },
      axisTick: { inside: true, length: 13, lineStyle: { color: '#333', width: 1.2 } },
      minorTick: { show: true, splitNumber: 5, length: 7, lineStyle: { color: '#333', width: 1.2 } },
      splitLine: { show: false },
      axisLabel: { rotate: -90, margin: 4, fontSize: 18, fontWeight: 'bold', color: '#111', fontFamily: sansBold }
    },
    {
      gridIndex: 1, type: 'value', position: 'left', min: -5, max: 5, interval: 1,
      axisLine: { onZero: false, lineStyle: { color: '#000', width: 2 } },
      axisTick: { inside: true, length: 29, lineStyle: { color: '#222', width: 1.5 } },
      minorTick: { show: true, splitNumber: 5, length: 16, lineStyle: { color: '#222', width: 1.5 } },
      splitLine: { show: false },
      axisLabel: { show: false }
    }
  ],
  series: histNames.map((name, i) => ({
    type: 'line',
    name: name,
    xAxisIndex: 0,
    yAxisIndex: 0,
    data: histSteps([gluonFusion, vectorBoson, wHiggs][i]),
    showSymbol: false,
    symbol: 'none',
    lineStyle: { color: histColors[i], width: 2 },
    itemStyle: { color: histColors[i] },
    silent: true,
    z: 3 + i
  })).concat([
    {
      type: 'custom', name: 'ECAL core', xAxisIndex: 1, yAxisIndex: 1, silent: true, z: 1, clip: true,
      data: [[0, 0]], renderItem: coreRenderer(ecalCore, 'rgba(255,35,35,0.19)', 'rgba(255,35,35,0.42)', 40)
    },
    {
      type: 'scatter',
      name: 'Jets',
      xAxisIndex: 1,
      yAxisIndex: 1,
      data: jetPoints,
      symbolSize: 3,
      itemStyle: { color: '#ff1a1a', opacity: 0.8 },
      silent: true,
      z: 2
    }
  ]),
  graphic: [
    // page frame and the two panel backgrounds
    { type: 'rect', z: -100, silent: true, shape: { x: 8, y: 5, width: 567, height: 792 }, style: { fill: panelGray } },
    { type: 'line', z: -99, silent: true, shape: { x1: 8, y1: 797.5, x2: 576, y2: 797.5 }, style: { stroke: '#c4c4c4', lineWidth: 1 } },
    { type: 'line', z: -99, silent: true, shape: { x1: 575.5, y1: 785, x2: 575.5, y2: 797 }, style: { stroke: '#c4c4c4', lineWidth: 1 } },
    { type: 'rect', z: -98, silent: true, shape: { x: 505, y: 5, width: 1041, height: 775 }, style: { fill: panelGray } },
    { type: 'rect', z: 120, silent: true, shape: { x: 0, y: 0, width: 1546, height: 5 }, style: { fill: '#000' } },
    { type: 'rect', z: 120, silent: true, shape: { x: 0, y: 0, width: 8, height: 855 }, style: { fill: '#000' } },
    // trimmed edge of the depth panel's first tick label
    { type: 'rect', z: 100, silent: true, shape: { x: 493, y: 717, width: 12, height: 34 }, style: { fill: panelGray } },
    // fraction axis title
    { type: 'rect', z: 10, silent: true, shape: { x: 12, y: 767, width: 183, height: 23 }, style: { fill: '#f8f8f8', stroke: '#e0e0e0', lineWidth: 1 } },
    { type: 'text', z: 11, silent: true, x: 32, y: 779,
      style: { text: 'Fraction of jets', fill: '#2a2a2a', font: 'bold 20px ' + sansBold, textVerticalAlign: 'middle', verticalAlign: 'middle' } },
    // depth axis unit
    { type: 'text', z: 11, silent: true, x: 1471, y: 768,
      style: { text: 'mm', fill: '#111', font: 'bold 28px ' + sansBold, textAlign: 'center', align: 'center', textVerticalAlign: 'middle', verticalAlign: 'middle' } },
    // vertical axis title box
    { type: 'rect', z: 10, silent: true, shape: { x: 547, y: 47, width: 66, height: 213 }, style: { fill: '#f7f7f7', stroke: '#e4e4e4', lineWidth: 1 } },
    { type: 'text', z: 11, silent: true, x: 582, y: 152, rotation: Math.PI / 2, scaleX: 1.18,
      style: {
        text: '{a|Log(E}{s|HAD}{a|/E}{s|EM}{a|)}',
        textAlign: 'center', align: 'center', textVerticalAlign: 'middle', verticalAlign: 'middle',
        rich: {
          a: { fontSize: 24, fontWeight: 'bold', fontFamily: sansBold, fill: '#000', color: '#000' },
          s: { fontSize: 15, fontWeight: 'bold', fontFamily: sansBold, fill: '#000', color: '#000', padding: [28, 0, 0, 0] }
        }
      } },
    // ECAL annotation
    { type: 'line', z: 100, silent: true, shape: { x1: 781, y1: 768, x2: 781, y2: 540 }, style: { stroke: '#000', lineWidth: 6 } },
    { type: 'polygon', z: 100, silent: true, shape: { points: [[781, 517], [767, 547], [795, 547]] }, style: { fill: '#000' } },
    { type: 'rect', z: 100, silent: true, shape: { x: 788, y: 554, width: 160, height: 123 }, style: { fill: '#585858' } },
    { type: 'text', z: 101, silent: true, x: 807, y: 594,
      style: { text: 'ECAL', fill: '#fff', font: '46px ' + handFont, textVerticalAlign: 'middle', verticalAlign: 'middle' } },
    { type: 'text', z: 101, silent: true, x: 808, y: 644,
      style: { text: 'begins', fill: '#fff', font: '38px ' + handFont, textVerticalAlign: 'middle', verticalAlign: 'middle' } },
    // HCAL annotation
    { type: 'line', z: 100, silent: true, shape: { x1: 1077, y1: 771, x2: 1077, y2: 378 }, style: { stroke: '#000', lineWidth: 6 } },
    { type: 'polygon', z: 100, silent: true, shape: { points: [[1077, 354], [1063, 384], [1091, 384]] }, style: { fill: '#000' } },
    { type: 'rect', z: 100, silent: true, shape: { x: 1076, y: 394, width: 175, height: 122 }, style: { fill: '#585858' } },
    { type: 'text', z: 101, silent: true, x: 1095, y: 433,
      style: { text: 'HCAL', fill: '#fff', font: '48px ' + handFont, textVerticalAlign: 'middle', verticalAlign: 'middle' } },
    { type: 'text', z: 101, silent: true, x: 1096, y: 484,
      style: { text: 'begins', fill: '#fff', font: '38px ' + handFont, textVerticalAlign: 'middle', verticalAlign: 'middle' } }
  ]
};

chart.setOption(option);
</script>
</body>
</html>
